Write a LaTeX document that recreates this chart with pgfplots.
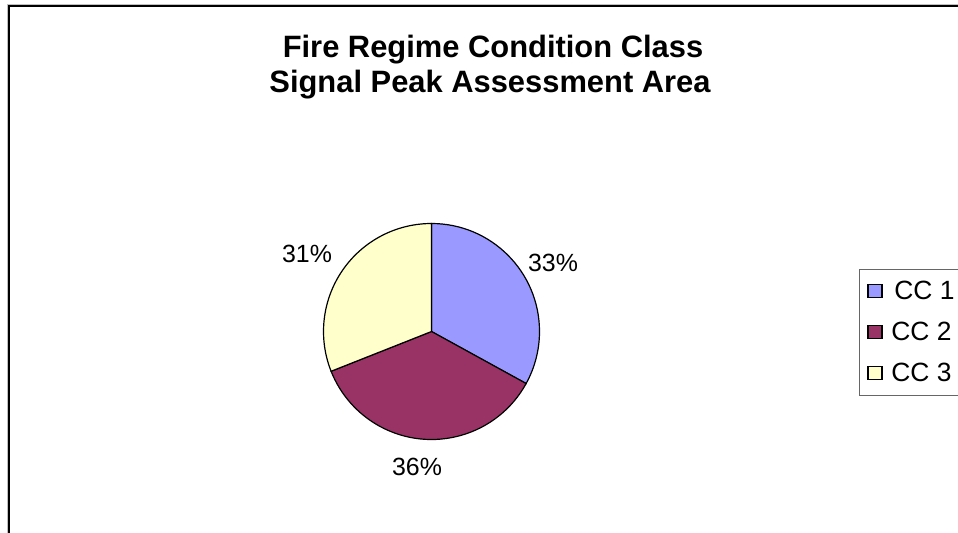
\documentclass[border=0pt]{standalone}
\usepackage{pgfplots}
\usepackage{pgfplotstable}
\pgfplotsset{compat=1.18}
\usepackage{fontspec}
\setmainfont{Liberation Sans}

\definecolor{cc1}{HTML}{9999FF}
\definecolor{cc2}{HTML}{993366}
\definecolor{cc3}{HTML}{FFFFCC}

% share of each condition class, percent
\pgfplotstableread{
class share
1 33
2 36
3 31
}\shares

\begin{document}
\begin{tikzpicture}
\useasboundingbox (0,0) rectangle (958bp,533bp);
\begin{axis}[
    at={(0,0)}, anchor=south west,
    width=958bp, height=533bp,
    scale only axis,
    xmin=0, xmax=958, ymin=0, ymax=533,
    y dir=reverse,
    hide axis,
    clip=false,
    legend style={
        at={(axis cs:859,269)}, anchor=north west,
        draw=black!60, line width=0.8pt,
        font=\fontsize{26.5}{28}\selectfont,
        row sep=17bp, inner xsep=8bp, inner ysep=10bp,
        cells={anchor=west},
    },
    legend image code/.code={
        \draw[#1, line width=1.2pt] (0bp,-6.5bp) rectangle (14bp,6.5bp);
        \path (21bp,0bp);
    },
]
% outer frame
\draw[black!25, line width=1bp] (axis cs:7.5,533) -- (axis cs:7.5,4.5) -- (axis cs:958,4.5);
\draw[black, line width=2bp] (axis cs:9.3,533) -- (axis cs:9.3,6.3) -- (axis cs:958,6.3);

% pie slices, clockwise from 12 o'clock
\pgfplotstablegetelem{0}{share}\of\shares \let\sa\pgfplotsretval
\pgfplotstablegetelem{1}{share}\of\shares \let\sb\pgfplotsretval
\pgfplotstablegetelem{2}{share}\of\shares \let\sc\pgfplotsretval
\pgfmathsetmacro\aa{90}
\pgfmathsetmacro\ab{90-3.6*\sa}
\pgfmathsetmacro\ac{\ab-3.6*\sb}
\pgfmathsetmacro\ad{\ac-3.6*\sc}
\filldraw[fill=cc1, draw=black, line width=1.2pt]
    (axis cs:431.5,331.5) -- ++(\aa:108bp) arc[start angle=\aa, end angle=\ab, radius=108bp] -- cycle;
\filldraw[fill=cc2, draw=black, line width=1.2pt]
    (axis cs:431.5,331.5) -- ++(\ab:108bp) arc[start angle=\ab, end angle=\ac, radius=108bp] -- cycle;
\filldraw[fill=cc3, draw=black, line width=1.2pt]
    (axis cs:431.5,331.5) -- ++(\ac:108bp) arc[start angle=\ac, end angle=\ad, radius=108bp] -- cycle;

% slice labels
\node[font=\fontsize{25}{30}\selectfont] at (axis cs:553,263) {\sa\%};
\node[font=\fontsize{25}{30}\selectfont] at (axis cs:417,467) {\sb\%};
\node[font=\fontsize{25}{30}\selectfont] at (axis cs:307,254) {\sc\%};

% title
\node[font=\bfseries\fontsize{31}{35}\selectfont, anchor=base]
    at (axis cs:493,58) {Fire Regime Condition Class};
\node[font=\bfseries\fontsize{31}{35}\selectfont, anchor=base]
    at (axis cs:490,92) {Signal Peak Assessment Area};

\addlegendimage{fill=cc1, draw=black}
\addlegendimage{fill=cc2, draw=black}
\addlegendimage{fill=cc3, draw=black}
\legend{\hspace{3bp}CC 1, CC 2, CC 3}
\end{axis}
\end{tikzpicture}
\end{document}
